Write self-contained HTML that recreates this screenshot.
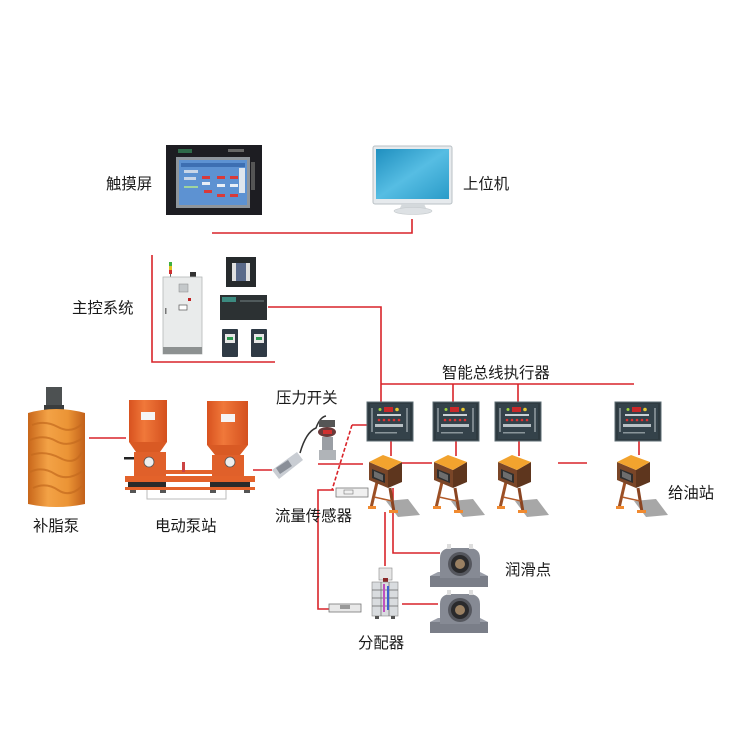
<!DOCTYPE html>
<html><head><meta charset="utf-8"><style>
html,body{margin:0;padding:0;background:#fff;}
svg{display:block;}
text{font-family:"Liberation Sans","Noto Sans CJK SC",sans-serif;font-size:15.4px;fill:#1a1a1a;}
</style></head><body>
<svg width="750" height="750" viewBox="0 0 750 750" xmlns="http://www.w3.org/2000/svg">
<defs>
<linearGradient id="mon" x1="0" y1="0" x2="1" y2="1"><stop offset="0" stop-color="#1f8fbf"/><stop offset="0.5" stop-color="#56bde3"/><stop offset="1" stop-color="#2a9bc8"/></linearGradient>
<linearGradient id="cyl" x1="0" y1="0" x2="1" y2="0"><stop offset="0" stop-color="#c8661a"/><stop offset="0.35" stop-color="#f3a246"/><stop offset="0.7" stop-color="#eb9435"/><stop offset="1" stop-color="#c2601a"/></linearGradient>
<linearGradient id="tank" x1="0" y1="0" x2="1" y2="0"><stop offset="0" stop-color="#d8521f"/><stop offset="0.4" stop-color="#f0783a"/><stop offset="1" stop-color="#d4501e"/></linearGradient>
<g id="exec">
<rect x="0" y="0" width="46" height="39" fill="#2e3a40" stroke="#5d6c73" stroke-width="1"/>
<rect x="3" y="2" width="40" height="35" fill="#34424a"/>
<rect x="17" y="5" width="9" height="5" fill="#c8282a"/>
<circle cx="13" cy="7.5" r="1.5" fill="#9cd23c"/>
<circle cx="30" cy="7.5" r="1.8" fill="#e8c830"/>
<rect x="10" y="12" width="24" height="2" fill="#c9d0d4"/>
<circle cx="12" cy="18" r="1.3" fill="#e03030"/><circle cx="17" cy="18" r="1.3" fill="#e03030"/><circle cx="22" cy="18" r="1.3" fill="#e03030"/><circle cx="27" cy="18" r="1.3" fill="#e03030"/><circle cx="32" cy="18" r="1.3" fill="#e03030"/>
<rect x="8" y="22" width="28" height="3" fill="#b8c0c4"/>
<rect x="8" y="30" width="22" height="1.5" fill="#8a959a"/>
<rect x="4" y="6" width="2" height="24" fill="#9aa4a8" opacity="0.7"/>
<rect x="39" y="6" width="2" height="24" fill="#9aa4a8" opacity="0.7"/>
</g>
<g id="stn">
<polygon points="18,46 40,44 52,60 30,62" fill="#8a8a8a" opacity="0.75"/>
<line x1="9" y1="27" x2="3" y2="53" stroke="#9b4f25" stroke-width="3"/>
<line x1="22" y1="33" x2="26" y2="57" stroke="#8a4522" stroke-width="3"/>
<line x1="6" y1="42" x2="24" y2="46" stroke="#b25a28" stroke-width="1.5"/>
<rect x="0" y="51" width="8" height="3" fill="#f08a30"/>
<rect x="21" y="55" width="9" height="3" fill="#f08a30"/>
<polygon points="1,7 20,15 20,33 1,25" fill="#7a4628"/>
<polygon points="20,15 34,7 34,27 20,33" fill="#5e361e"/>
<polygon points="1,7 15,0 34,7 20,15" fill="#f2a32e"/>
<polygon points="4,14 17,19 17,28 4,23" fill="#2e2e2e"/>
<polygon points="6,16 15,20 15,26 6,22" fill="#6d6d6d"/>
</g>
<g id="brg">
<rect x="0" y="32" width="58" height="11" fill="#7a7e88"/>
<polygon points="0,32 8,28 50,28 58,32" fill="#9a9ea8"/>
<path d="M10 34 L10 14 Q10 4 22 4 L38 4 Q50 4 50 14 L50 34 Z" fill="#868a94"/>
<circle cx="30" cy="20" r="12" fill="#55575e"/>
<circle cx="30" cy="20" r="9" fill="#2a2a2c"/>
<circle cx="30" cy="20" r="5" fill="#9a8062"/>
<rect x="17" y="0" width="4" height="5" fill="#ddd"/><rect x="39" y="0" width="4" height="5" fill="#ddd"/>
</g>
</defs>

<!-- red connectors -->
<g stroke="#d9242a" stroke-width="1.6" fill="none">
<path d="M212 233 H412 V219"/>
<path d="M152 255 V362 H275"/>
<path d="M268 307 H381 V402"/>
<path d="M381 384 H634"/>
<path d="M453 384 V402 M518 384 V402"/>
<path d="M391 441 V456 M456 441 V456 M519 441 V456 M639 441 V455"/>
<path d="M402 463 H432 M558 463 H587"/>
<path d="M318 464 H363"/>
<path d="M370 425 H352"/>
<path d="M352 425 L332 490" stroke-dasharray="4 2"/>
<path d="M334 490 H318 V609 H330"/>
<path d="M89 438 H126"/>
<path d="M253 470 H272"/>
<path d="M385 512 V566"/>
<path d="M393 488 V553 H440"/>
<path d="M402 604 H438"/>
</g>

<!-- touch screen -->
<rect x="166" y="145" width="96" height="70" fill="#1d1d22"/>
<rect x="178" y="149" width="14" height="4" fill="#2f6a4a"/>
<rect x="228" y="149" width="16" height="3" fill="#666"/>
<rect x="176" y="157" width="74" height="51" fill="#8e959c"/>
<rect x="179" y="160" width="68" height="45" fill="#5d92d2"/>
<rect x="181" y="163" width="64" height="4" fill="#3d6fb2"/>
<rect x="184" y="170" width="14" height="3" fill="#c9d6e8"/><rect x="184" y="177" width="12" height="3" fill="#c9d6e8"/><rect x="184" y="186" width="14" height="2" fill="#9fd49f"/>
<rect x="202" y="176" width="8" height="3" fill="#d83a3a"/><rect x="217" y="176" width="8" height="3" fill="#d83a3a"/><rect x="230" y="176" width="8" height="3" fill="#d83a3a"/>
<rect x="204" y="190" width="8" height="3" fill="#d83a3a"/><rect x="217" y="194" width="8" height="3" fill="#d83a3a"/><rect x="230" y="194" width="8" height="3" fill="#d83a3a"/>
<rect x="202" y="182" width="8" height="3" fill="#e8eef6"/><rect x="217" y="184" width="8" height="3" fill="#e8eef6"/><rect x="230" y="184" width="8" height="3" fill="#e8eef6"/>
<rect x="239" y="168" width="6" height="25" fill="#dfe6ee"/>
<rect x="251" y="162" width="4" height="28" fill="#555"/>

<!-- monitor -->
<rect x="373" y="146" width="79" height="58" rx="2" fill="#e6eaed" stroke="#b9c0c5" stroke-width="1"/>
<rect x="376" y="149" width="73" height="50" fill="url(#mon)"/>
<polygon points="402,204 424,204 427,210 399,210" fill="#d4d9dc"/>
<ellipse cx="413" cy="211" rx="19" ry="3.5" fill="#dde1e4" stroke="#c4c9cc" stroke-width="0.6"/>

<!-- main control -->
<rect x="169" y="262" width="3" height="4" fill="#40b040"/><rect x="169" y="266" width="3" height="4" fill="#e0c020"/><rect x="169" y="270" width="3" height="4" fill="#d03030"/><rect x="170" y="274" width="1" height="3" fill="#666"/>
<rect x="190" y="272" width="6" height="5" fill="#333"/>
<rect x="163" y="277" width="39" height="77" fill="#e9ebeb" stroke="#b4b8b8" stroke-width="0.8"/>
<rect x="163" y="347" width="39" height="7" fill="#8d9191"/>
<rect x="179" y="284" width="9" height="8" fill="#c4c8ca" stroke="#888" stroke-width="0.5"/>
<rect x="188" y="298" width="3" height="3" fill="#c02020"/>
<rect x="179" y="305" width="8" height="5" fill="#fff" stroke="#555" stroke-width="0.7"/>
<rect x="165" y="308" width="1.5" height="6" fill="#777"/>
<rect x="226" y="257" width="30" height="30" fill="#262a2c"/>
<rect x="232" y="263" width="18" height="18" fill="#e0e0e0"/>
<rect x="236" y="263" width="10" height="18" fill="#5a6a8a"/>
<rect x="220" y="295" width="47" height="25" fill="#2c3133"/>
<rect x="222" y="297" width="14" height="5" fill="#3c8a80"/>
<rect x="240" y="300" width="24" height="2" fill="#505a5c"/>
<rect x="222" y="329" width="16" height="28" rx="1" fill="#2f3a45"/>
<rect x="225" y="334" width="10" height="9" fill="#e6e6e6"/><rect x="227" y="337" width="6" height="3" fill="#2a9a50"/>
<rect x="251" y="329" width="16" height="28" rx="1" fill="#2f3a45"/>
<rect x="254" y="334" width="10" height="9" fill="#e6e6e6"/><rect x="256" y="337" width="6" height="3" fill="#2a9a50"/>

<!-- grease pump -->
<rect x="46" y="387" width="16" height="21" fill="#4d5152"/>
<rect x="44" y="405" width="20" height="5" fill="#3a3d3e"/>
<path d="M28 413 Q56 405 85 413 L85 504 Q56 510 28 504 Z" fill="url(#cyl)"/>
<g stroke="#c46a1e" stroke-width="2" fill="none" opacity="0.7">
<path d="M32 425 Q45 420 58 427 T82 424"/>
<path d="M30 440 Q44 434 56 441 T83 438"/>
<path d="M31 455 Q45 450 60 458 T82 452"/>
<path d="M30 472 Q42 466 55 474 T84 470"/>
<path d="M33 488 Q46 482 58 490 T82 486"/>
</g>

<!-- electric pump station -->
<rect x="129" y="400" width="38" height="42" fill="url(#tank)"/>
<rect x="141" y="412" width="14" height="8" fill="#f5f5f5"/>
<polygon points="129,442 167,442 160,452 136,452" fill="#d95a24"/>
<rect x="134" y="452" width="32" height="26" fill="#e0602a"/>
<circle cx="149" cy="462" r="5" fill="#eee" stroke="#555" stroke-width="0.8"/>
<rect x="124" y="457" width="10" height="2.5" fill="#222"/>
<rect x="207" y="401" width="41" height="44" fill="url(#tank)"/>
<rect x="221" y="414" width="14" height="8" fill="#f5f5f5"/>
<polygon points="207,445 248,445 240,455 215,455" fill="#d95a24"/>
<rect x="212" y="455" width="32" height="24" fill="#e0602a"/>
<circle cx="230" cy="462" r="5" fill="#eee" stroke="#555" stroke-width="0.8"/>
<rect x="125" y="476" width="130" height="6" fill="#e3622a"/>
<rect x="128" y="482" width="38" height="5" fill="#2a2a2a"/>
<rect x="210" y="482" width="40" height="5" fill="#2a2a2a"/>
<rect x="125" y="487" width="130" height="3" fill="#e3622a"/>
<rect x="166" y="470" width="46" height="4" fill="#e3622a"/>
<rect x="182" y="462" width="3" height="10" fill="#c44"/>
<path d="M147 490 V499 H226 V490" stroke="#bbb" stroke-width="1" fill="none"/>
<rect x="130" y="490" width="6" height="3" fill="#555"/><rect x="160" y="490" width="6" height="3" fill="#555"/><rect x="210" y="490" width="6" height="3" fill="#555"/><rect x="244" y="490" width="6" height="3" fill="#555"/>

<!-- pressure switch / sensors -->
<path d="M300 453 Q306 432 316 428 Q320 417 326 416" stroke="#333" stroke-width="1.5" fill="none"/>
<polygon points="272,470 297,452 303,460 279,479" fill="#c9cdd3"/>
<polygon points="276,468 288,460 292,466 280,474" fill="#8a8f98"/>
<rect x="319" y="420" width="16" height="7" fill="#555"/>
<ellipse cx="327" cy="432" rx="9" ry="5" fill="#6a3a3a"/>
<rect x="323" y="430" width="9" height="4" fill="#d03030"/>
<rect x="322" y="437" width="11" height="14" fill="#9a9ea4"/>
<rect x="319" y="450" width="17" height="10" fill="#b0b4b8"/>
<rect x="336" y="488" width="32" height="9" fill="#f0f0f0" stroke="#777" stroke-width="0.8"/>
<rect x="344" y="490" width="9" height="4" fill="none" stroke="#777" stroke-width="0.6"/>
<rect x="329" y="604" width="32" height="8" fill="#e8e8e8" stroke="#777" stroke-width="0.8"/>
<rect x="340" y="605" width="10" height="4" fill="#999"/>

<!-- distributor -->
<rect x="379" y="568" width="13" height="12" fill="#e6e6e6" stroke="#888" stroke-width="0.6"/>
<rect x="383" y="578" width="5" height="4" fill="#8a2a2a"/>
<rect x="372" y="582" width="26" height="34" fill="#d9dcdf" stroke="#888" stroke-width="0.6"/>
<g stroke="#666" stroke-width="0.7"><line x1="372" y1="590" x2="398" y2="590"/><line x1="372" y1="598" x2="398" y2="598"/><line x1="372" y1="606" x2="398" y2="606"/><line x1="381" y1="582" x2="381" y2="616"/><line x1="389" y1="582" x2="389" y2="616"/></g>
<rect x="383" y="584" width="2" height="28" fill="#c050c0"/><rect x="387" y="586" width="2" height="24" fill="#4060d0"/>
<rect x="375" y="616" width="4" height="3" fill="#555"/><rect x="391" y="616" width="4" height="3" fill="#555"/>

<!-- bearings -->
<use href="#brg" x="430" y="544"/>
<use href="#brg" x="430" y="590"/>

<!-- executors -->
<use href="#exec" x="367" y="402"/>
<use href="#exec" x="433" y="402"/>
<use href="#exec" x="495" y="402"/>
<use href="#exec" x="615" y="402"/>

<!-- stations -->
<use href="#stn" x="368" y="455"/>
<use href="#stn" x="433" y="455"/>
<use href="#stn" x="497" y="455"/>
<use href="#stn" x="616" y="455"/>

<!-- labels -->
<text x="106" y="189">触摸屏</text>
<text x="463" y="189">上位机</text>
<text x="72" y="313">主控系统</text>
<text x="442" y="378">智能总线执行器</text>
<text x="276" y="403">压力开关</text>
<text x="275" y="521">流量传感器</text>
<text x="33" y="531">补脂泵</text>
<text x="155" y="531">电动泵站</text>
<text x="668" y="498">给油站</text>
<text x="505" y="575">润滑点</text>
<text x="358" y="648">分配器</text>
</svg>
</body></html>
